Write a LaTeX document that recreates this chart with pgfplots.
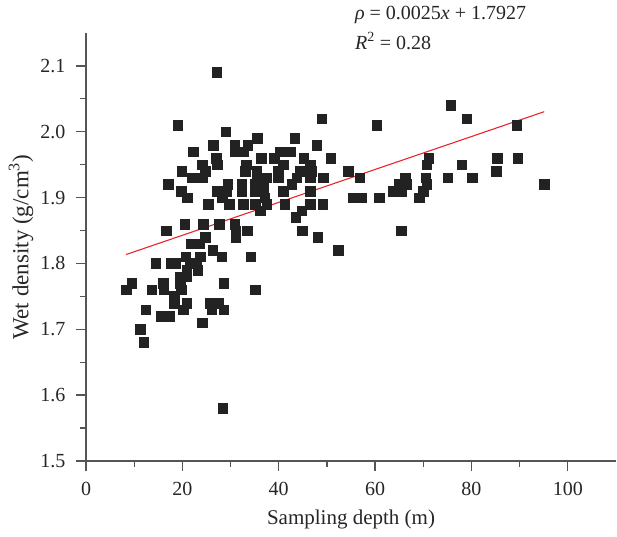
\documentclass[border=0pt]{standalone}
\usepackage{fontspec}
\setmainfont{Liberation Serif}
\usepackage{pgfplots}
\pgfplotsset{compat=1.18}
\usetikzlibrary{calc}
\definecolor{mk}{HTML}{222222}
\definecolor{ax}{HTML}{555555}
\definecolor{fit}{HTML}{E8262B}
\begin{document}
\begin{tikzpicture}
\begin{axis}[
  name=ax,
  scale only axis,
  width=530pt, height=428pt,
  xmin=0, xmax=110, ymin=1.5, ymax=2.15,
  axis lines=left,
  axis line style={-, ax, line width=1.3pt},
  every tick/.style={ax, line width=1.3pt},
  tick align=outside,
  major tick length=10pt,
  minor tick length=6pt,
  xtick={0,20,40,60,80,100},
  minor x tick num=1,
  ytick={1.5,1.6,1.7,1.8,1.9,2.0,2.1},
  minor y tick num=1,
  yticklabel style={/pgf/number format/.cd, fixed, fixed zerofill, precision=1, /tikz/.cd, xshift=-7pt},
  xticklabel style={yshift=-8pt},
  /pgf/number format/assume math mode=true,
  ticklabel style={font=\fontsize{20}{22}\selectfont, text=black!85},
  xlabel={Sampling depth (m)},
  ylabel={Wet density (g/cm\textsuperscript{3})},
  xlabel style={at={($(axis description cs:0.5,0)+(0,-58pt)$)}, anchor=center, font=\fontsize{21}{24}\selectfont, text=black!85},
  ylabel style={at={($(axis description cs:0,0.5)+(-65pt,0pt)$)}, anchor=center, font=\fontsize{23}{26}\selectfont, text=black!85},
  clip=false,
]
\addplot[only marks, mark=square*, mark size=4.8pt, color=mk] coordinates {
(27.1,2.09) (19.0,2.01) (29.0,2.00) (35.5,1.99) (26.4,1.98) (30.9,1.98)
(33.6,1.98) (22.2,1.97) (31.0,1.97) (32.6,1.97) (40.2,1.97) (42.4,1.97)
(43.3,1.99) (47.9,1.98) (48.9,2.02) (60.3,2.01) (27.0,1.96) (27.2,1.95)
(24.1,1.95) (24.8,1.94) (19.9,1.94) (36.3,1.96) (39.0,1.96) (45.2,1.96)
(50.8,1.96) (33.3,1.95) (33.0,1.94) (35.4,1.94) (39.9,1.94) (40.9,1.95)
(46.5,1.95) (44.4,1.94) (46.8,1.94) (54.4,1.94) (22.1,1.93) (24.1,1.93)
(35.4,1.93) (37.5,1.93) (39.9,1.93) (43.7,1.93) (46.5,1.93) (49.2,1.93)
(56.8,1.93) (17.0,1.92) (29.4,1.92) (32.3,1.92) (35.1,1.92) (36.8,1.92)
(42.7,1.92) (19.8,1.91) (27.2,1.91) (29.2,1.91) (32.3,1.91) (35.1,1.91)
(36.8,1.91) (40.9,1.91) (46.5,1.91) (21.0,1.90) (28.3,1.90) (37.1,1.90)
(55.5,1.90) (57.2,1.90) (60.8,1.90) (25.3,1.89) (29.7,1.89) (32.6,1.89)
(35.1,1.89) (37.5,1.89) (41.2,1.89) (46.5,1.89) (49.1,1.89) (36.2,1.88)
(44.8,1.88) (43.5,1.87) (16.6,1.85) (20.5,1.86) (24.3,1.86) (27.7,1.86)
(30.9,1.86) (31.1,1.85) (33.5,1.85) (44.9,1.85) (48.1,1.84) (24.7,1.84)
(31.1,1.84) (21.8,1.83) (23.5,1.83) (26.3,1.82) (52.3,1.82) (20.7,1.81)
(23.7,1.81) (28.2,1.81) (34.2,1.81) (14.5,1.80) (17.6,1.80) (18.5,1.80)
(21.6,1.80) (23.0,1.80) (20.9,1.79) (23.2,1.79) (19.5,1.78) (20.9,1.78)
(9.5,1.77) (16.0,1.77) (19.5,1.77) (28.6,1.77) (8.3,1.76) (13.6,1.76)
(16.1,1.76) (19.8,1.76) (35.1,1.76) (18.3,1.75) (18.3,1.74) (20.9,1.74)
(25.7,1.74) (27.4,1.74) (12.4,1.73) (20.2,1.73) (26.1,1.73) (28.6,1.73)
(15.5,1.72) (17.4,1.72) (24.1,1.71) (11.2,1.70) (12.0,1.68) (28.4,1.58)
(75.7,2.04) (79.0,2.02) (89.4,2.01) (71.1,1.96) (70.7,1.95) (85.4,1.96)
(89.6,1.96) (78.0,1.95) (85.1,1.94) (66.2,1.93) (70.5,1.93) (75.1,1.93)
(80.1,1.93) (65.0,1.92) (66.5,1.92) (70.7,1.92) (63.8,1.91) (65.4,1.91)
(70.0,1.91) (69.1,1.90) (95.1,1.92) (65.4,1.85)
};
\addplot[fit, line width=1.1pt] coordinates {(8.3,1.8135) (95.1,2.0305)};
\node[anchor=west, font=\fontsize{20}{24}\selectfont, text=black!85, inner sep=0pt]
  at (axis cs:55.8,2.177) {{\itshape ρ} = 0.0025{\itshape x} + 1.7927};
\node[anchor=west, font=\fontsize{20}{24}\selectfont, text=black!85, inner sep=0pt]
  at (axis cs:55.8,2.138) {{\itshape R}\textsuperscript{2} = 0.28};
\end{axis}
\pgfresetboundingbox
\path ([xshift=-86pt,yshift=-76pt]ax.south west) rectangle ([xshift=1pt,yshift=33pt]ax.north east);
\end{tikzpicture}
\end{document}
